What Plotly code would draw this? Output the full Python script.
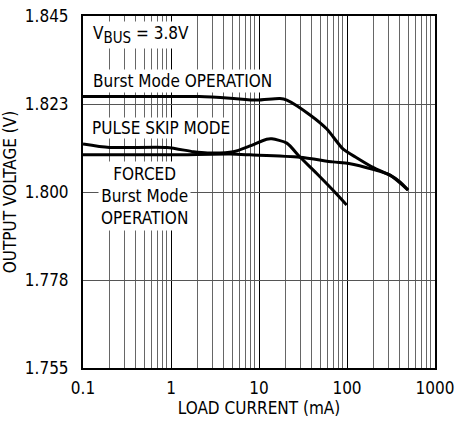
import plotly.graph_objects as go

# Load current (mA) and output voltage (V) for each operating mode
burst_ma = [0.1, 0.5, 2.1, 4.7, 9.4, 17.3, 20.7, 38, 59, 90, 130, 197, 308, 400, 494]
burst_v = [1.8244, 1.8244, 1.8244, 1.8240, 1.8235, 1.8239, 1.8235, 1.8197, 1.8161,
           1.8110, 1.8087, 1.8063, 1.8043, 1.8026, 1.8005]

pulse_ma = [0.1, 0.2, 0.9, 1.8, 2.6, 5.1, 7.9, 12.2, 14, 20.7, 29, 45, 69, 99]
pulse_v = [1.8123, 1.8114, 1.8114, 1.8103, 1.8100, 1.8103, 1.8118, 1.8135, 1.8136,
           1.8125, 1.8090, 1.8048, 1.8005, 1.7967]

forced_ma = [0.1, 1, 4.7, 7.9, 29, 69, 105, 197, 308, 494]
forced_v = [1.8095, 1.8095, 1.8097, 1.8095, 1.8089, 1.8077, 1.8073, 1.8058, 1.8043, 1.8005]

x_ticks = [0.1, 1, 10, 100, 1000]
x_ticktext = ["0.1", "1", "10", "100", "1000"]
x_minor = [m * d for d in (0.1, 1, 10, 100) for m in range(2, 10)]
y_ticks = [1.755, 1.7775, 1.800, 1.8225, 1.845]
y_ticktext = ["1.755", "1.778", "1.800", "1.823", "1.845"]

FONT = "DejaVu Sans Condensed, Liberation Sans Narrow, Arial Narrow, sans-serif"
SIZE = 17

fig = go.Figure()
for xs, ys in ((burst_ma, burst_v), (pulse_ma, pulse_v), (forced_ma, forced_v)):
    fig.add_trace(go.Scatter(
        x=xs, y=ys, mode="lines",
        line=dict(color="black", width=3, shape="spline", smoothing=0.7),
        showlegend=False, hoverinfo="skip",
    ))

label_font = dict(family=FONT, size=SIZE, color="black")
fig.add_annotation(text='V<sub><span style="font-size:15px">BUS</span></sub> = 3.8V',
                   xref="paper", yref="paper",
                   x=0.022, y=0.946, xanchor="left", yanchor="middle",
                   showarrow=False, bgcolor="white", borderpad=1, font=label_font)
fig.add_annotation(text="Burst Mode OPERATION", xref="paper", yref="paper",
                   x=0.022, y=0.815, xanchor="left", yanchor="middle",
                   showarrow=False, bgcolor="white", borderpad=1, font=label_font)
fig.add_annotation(text="PULSE SKIP MODE", xref="paper", yref="paper",
                   x=0.022, y=0.682, xanchor="left", yanchor="middle",
                   showarrow=False, bgcolor="white", borderpad=0, font=label_font)
fig.add_annotation(text="FORCED<br>Burst Mode<br>OPERATION", xref="paper", yref="paper",
                   x=0.176, y=0.489, xanchor="center", yanchor="middle", align="center",
                   showarrow=False, bgcolor="white", borderpad=2, font=label_font)

fig.update_xaxes(
    type="log", range=[-1, 3],
    tickvals=x_ticks, ticktext=x_ticktext,
    showgrid=True, gridcolor="black", gridwidth=1,
    minor=dict(tickvals=x_minor, showgrid=True, gridcolor="#666666", gridwidth=1, ticklen=0),
    showline=True, linecolor="black", linewidth=2, mirror=True,
    ticks="", ticklabelstandoff=4, automargin=False,
    tickfont=dict(family=FONT, size=SIZE, color="black"),
    title=dict(text="LOAD CURRENT (mA)", font=dict(family=FONT, size=SIZE, color="black"),
               standoff=0),
    zeroline=False,
)
fig.update_yaxes(
    range=[1.755, 1.845],
    tickvals=y_ticks, ticktext=y_ticktext,
    showgrid=True, gridcolor="#555555", gridwidth=1,
    showline=True, linecolor="black", linewidth=2, mirror=True,
    ticks="", ticklabelstandoff=9, automargin=False,
    tickfont=dict(family=FONT, size=SIZE, color="black"),
    title=dict(text="OUTPUT VOLTAGE (V)", font=dict(family=FONT, size=SIZE, color="black"),
               standoff=4),
    zeroline=False,
)

fig.update_layout(
    width=455, height=421,
    margin=dict(l=83, r=20, t=16, b=53),
    plot_bgcolor="white", paper_bgcolor="white",
)

fig.write_html("out.html")
